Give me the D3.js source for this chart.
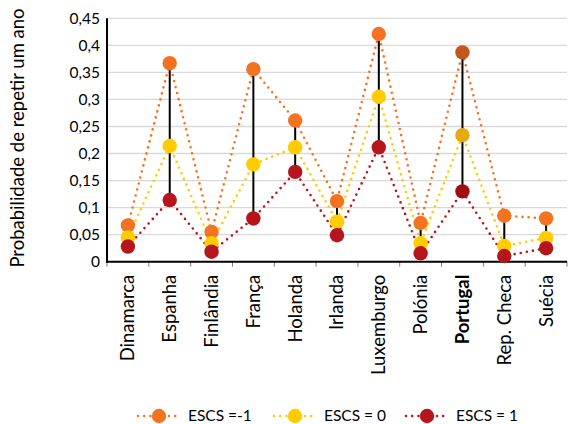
<!DOCTYPE html>
<html><head><meta charset="utf-8">
<script src="https://cdn.jsdelivr.net/npm/d3@7"></script>
<style>body{margin:0;background:#fff}svg{display:block}text{font-family:Lato,"Open Sans",sans-serif;fill:#000}</style>
</head><body><svg id="c" width="570" height="424"></svg>
<script>
const categories=["Dinamarca","Espanha","Finlândia","França","Holanda","Irlanda","Luxemburgo","Polónia","Portugal","Rep. Checa","Suécia"];
const escsMinus1=[0.067,0.367,0.055,0.356,0.261,0.112,0.421,0.0715,0.387,0.085,0.080];
const escs0=[0.045,0.214,0.034,0.180,0.2115,0.074,0.305,0.034,0.234,0.029,0.044];
const escs1=[0.028,0.114,0.0185,0.080,0.166,0.049,0.2115,0.0155,0.130,0.0105,0.025];
const yTicks=[0,0.05,0.1,0.15,0.2,0.25,0.3,0.35,0.4,0.45];
const seriesNames=["ESCS =-1","ESCS = 0","ESCS = 1"];
const colors=["#F37321","#FFCC00","#B5151B"];
const hiColors=["#C3571B","#E5A912","#9E0E10"];
const highlight="Portugal";

const svg=d3.select("#c");
const L=107,R=567,T=18.3,B=261.7;
const x=d3.scaleBand().domain(categories).range([L,R]);
const y=d3.scaleLinear().domain([0,0.45]).range([B,T]);
const fmt=v=>String(+v.toFixed(2)).replace(".",",");

// grid
svg.append("g").selectAll("line").data(yTicks.slice(1)).join("line")
 .attr("x1",L).attr("x2",R).attr("y1",d=>y(d)).attr("y2",d=>y(d))
 .attr("stroke","#D9D9D9").attr("stroke-width",1.3);
// y labels
svg.append("g").selectAll("text").data(yTicks).join("text")
 .attr("x",L-7).attr("y",d=>y(d)).attr("dy","0.35em").attr("text-anchor","end")
 .style("font-size","15.5px").text(fmt);
svg.append("text").attr("transform",`translate(18,${(T+B)/2-2}) rotate(-90)`)
 .attr("dy","0.35em").attr("text-anchor","middle").style("font-size","18.5px").text("Probabilidade de repetir um ano");
// x ticks
const bounds=categories.map(c=>x(c)).concat([R]);
svg.append("g").selectAll("line").data(bounds).join("line")
 .attr("x1",d=>d).attr("x2",d=>d).attr("y1",B).attr("y2",B+5).attr("stroke","#808080").attr("stroke-width",1);
// x labels
svg.append("g").selectAll("text").data(categories).join("text")
 .attr("transform",d=>`translate(${x(d)+x.bandwidth()/2},${B+13}) rotate(-90)`)
 .attr("dy","0.35em").attr("text-anchor","end")
 .style("font-size","18.5px").style("font-weight",d=>d===highlight?"bold":"normal").text(d=>d);
// axes
svg.append("line").attr("x1",L).attr("x2",L).attr("y1",T).attr("y2",B+1).attr("stroke","#000").attr("stroke-width",2);
svg.append("line").attr("x1",L-1).attr("x2",R).attr("y1",B).attr("y2",B).attr("stroke","#000").attr("stroke-width",2);

const series=[escsMinus1,escs0,escs1];
const cx=c=>x(c)+x.bandwidth()/2;
// dotted lines
const line=d3.line().x((d,i)=>cx(categories[i])).y(d=>y(d));
series.forEach((s,k)=>{
 svg.append("path").attr("d",line(s)).attr("fill","none").attr("stroke",colors[k])
  .attr("stroke-width",2.6).attr("stroke-linecap","round").attr("stroke-dasharray","0 6.2");
});
// black high-low lines
svg.append("g").selectAll("line").data(categories).join("line")
 .attr("x1",cx).attr("x2",cx).attr("y1",(d,i)=>y(escsMinus1[i])).attr("y2",(d,i)=>y(escs1[i]))
 .attr("stroke","#000").attr("stroke-width",2);
// markers
series.forEach((s,k)=>{
 svg.append("g").selectAll("circle").data(s).join("circle")
  .attr("cx",(d,i)=>cx(categories[i])).attr("cy",d=>y(d)).attr("r",7.2)
  .attr("fill",(d,i)=>categories[i]===highlight?hiColors[k]:colors[k]);
});
// legend
const legX=[159,295,427];
seriesNames.forEach((n,k)=>{
 const g=svg.append("g");
 g.append("line").attr("x1",legX[k]-21).attr("x2",legX[k]+22).attr("y1",416).attr("y2",416)
  .attr("stroke",colors[k]).attr("stroke-width",2.6).attr("stroke-linecap","round").attr("stroke-dasharray","0 6.2");
 g.append("circle").attr("cx",legX[k]).attr("cy",416).attr("r",7.2).attr("fill",colors[k]);
 g.append("text").attr("x",legX[k]+29).attr("y",416).attr("dy","0.35em").style("font-size","15.5px").text(n);
});
</script></body></html>
